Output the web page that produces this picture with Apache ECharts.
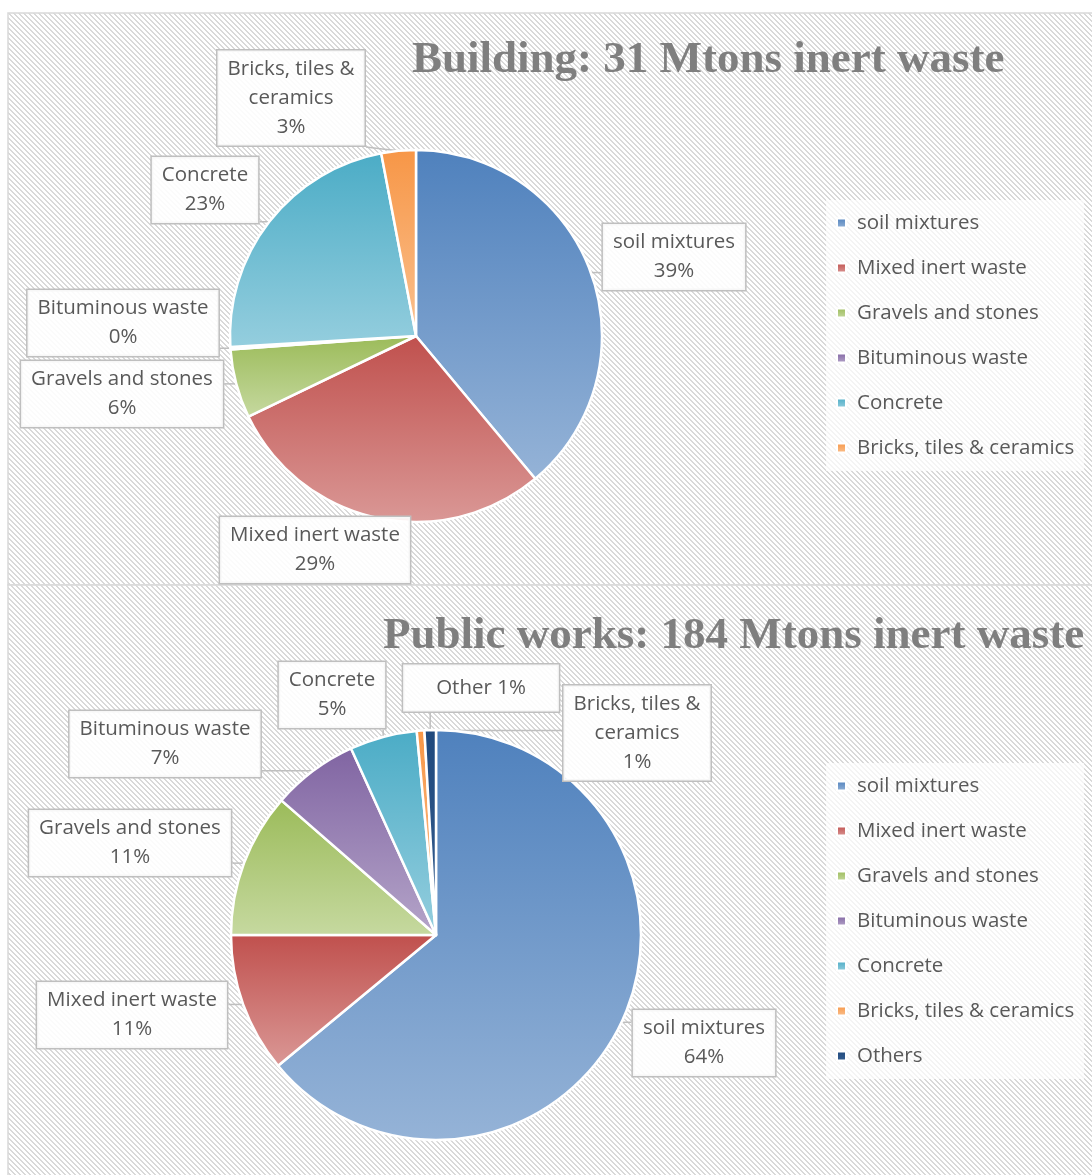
<!DOCTYPE html>
<html><head><meta charset="utf-8">
<script src="https://cdn.jsdelivr.net/npm/echarts@6/dist/echarts.min.js"></script>
<style>html,body{margin:0;padding:0;background:#fff}#chart{width:1092px;height:1175px}</style>
</head><body><div id="chart"></div>
<script>
// ---------- data ----------
const titles = ['Building: 31 Mtons inert waste', 'Public works: 184 Mtons inert waste'];

const categories1 = ['soil mixtures', 'Mixed inert waste', 'Gravels and stones', 'Bituminous waste', 'Concrete', 'Bricks, tiles & ceramics'];
const values1 = [39, 29, 6, 0.2, 23, 3];
const labelFormats1 = ['soil mixtures\n{p}%', 'Mixed inert waste\n{p}%', 'Gravels and stones\n{p}%', 'Bituminous waste\n{p}%', 'Concrete\n{p}%', 'Bricks, tiles &\nceramics\n{p}%'];

const categories2 = ['soil mixtures', 'Mixed inert waste', 'Gravels and stones', 'Bituminous waste', 'Concrete', 'Bricks, tiles & ceramics', 'Others'];
const values2 = [64, 11, 11.4, 6.8, 5.3, 0.6, 0.9];
const labelFormats2 = ['soil mixtures\n{p}%', 'Mixed inert waste\n{p}%', 'Gravels and stones\n{p}%', 'Bituminous waste\n{p}%', 'Concrete\n{p}%', 'Bricks, tiles &\nceramics\n{p}%', 'Other {p}%'];

// ---------- styles ----------
const colorStops = {
  'soil mixtures': ['#4F81BD', '#95B3D7'],
  'Mixed inert waste': ['#C0504D', '#DA9896'],
  'Gravels and stones': ['#9BBB59', '#C6D9A0'],
  'Bituminous waste': ['#8064A2', '#B5A5C9'],
  'Concrete': ['#4BACC6', '#95CEDE'],
  'Bricks, tiles & ceramics': ['#F79646', '#FAC190'],
  'Others': ['#1F497D', '#365E90']
};
function grad(name) {
  const c = colorStops[name];
  return new echarts.graphic.LinearGradient(0, 0, 0, 1, [{offset: 0, color: c[0]}, {offset: 1, color: c[1]}]);
}
// label box centres (layout)
const labelPos = [
  [[674, 257], [315, 550], [122, 394], [123, 323], [205, 190], [291, 98]],
  [[704, 1043], [132, 1015], [130, 843], [165, 744], [332, 695], [637, 733], [481, 688]]
];

// hatch pattern
const tile = document.createElement('canvas');
const P = 5;
tile.width = P; tile.height = P;
const tctx = tile.getContext('2d');
tctx.fillStyle = '#ffffff'; tctx.fillRect(0, 0, P, P);
tctx.fillStyle = '#d9d9d9';
for (let x = 0; x < P; x++) for (let y = 0; y < P; y++) {
  if (((x - y) % P + P) % P < 2) tctx.fillRect(x, y, 1, 1);
}
const hatch = {image: tile, repeat: 'repeat'};

const FONT = '"Open Sans", "Liberation Sans", sans-serif';
const labelBase = {
  show: true,
  color: '#595959',
  fontFamily: FONT,
  fontSize: 20.5,
  lineHeight: 29,
  align: 'center',
  backgroundColor: 'rgba(255,255,255,0.88)',
  borderColor: '#bfbfbf',
  borderWidth: 1.5,
  padding: [4, 10]
};

function buildData(cats, vals) {
  return cats.map((n, i) => ({
    name: n,
    value: vals[i],
    itemStyle: {color: grad(n)}
  }));
}
function makeFormatter(formats) {
  return p => formats[p.dataIndex].replace('{p}', Math.round(p.percent));
}
function makeLayout(si) {
  return p => {
    const c = labelPos[si][p.dataIndex];
    const w = p.labelRect.width, h = p.labelRect.height;
    const out = {x: c[0], y: c[1], align: 'center', verticalAlign: 'middle'};
    if (p.labelLinePoints && p.labelLinePoints.length) {
      const s = p.labelLinePoints[0];
      const ex = Math.min(Math.max(s[0], c[0] - w / 2), c[0] + w / 2);
      const ey = Math.min(Math.max(s[1], c[1] - h / 2), c[1] + h / 2);
      out.labelLinePoints = [[s[0], s[1]], [(s[0] + ex) / 2, (s[1] + ey) / 2], [ex, ey]];
    }
    return out;
  };
}

const data2 = buildData(categories2, values2);
data2[6].label = {padding: [9, 33]};

const chart = echarts.init(document.getElementById('chart'), null, {renderer: 'canvas'});
chart.setOption({
  animation: false,
  backgroundColor: '#ffffff',
  graphic: [
    {type: 'rect', silent: true, z: -10, shape: {x: 8, y: 13, width: 1100, height: 572}, style: {fill: hatch, stroke: '#d9d9d9', lineWidth: 1.5}},
    {type: 'rect', silent: true, z: -10, shape: {x: 8, y: 585, width: 1100, height: 600}, style: {fill: hatch, stroke: '#d9d9d9', lineWidth: 1.5}},
    {type: 'text', silent: true, z: 5, x: 412, y: 60, style: {text: titles[0], fill: '#7f7f7f', font: 'bold 45px "Liberation Serif", serif', textVerticalAlign: 'middle'}},
    {type: 'text', silent: true, z: 5, x: 383, y: 636, style: {text: titles[1], fill: '#7f7f7f', font: 'bold 45px "Liberation Serif", serif', textVerticalAlign: 'middle'}}
  ],
  legend: [
    {
      data: categories1, orient: 'vertical', left: 826, top: 200,
      padding: [12, 10, 12, 10], itemWidth: 9, itemHeight: 9, itemGap: 23, icon: 'rect',
      backgroundColor: 'rgba(255,255,255,0.7)',
      textStyle: {color: '#595959', fontFamily: FONT, fontSize: 20.5, lineHeight: 22, padding: [0, 0, 0, 6]}
    },
    {
      data: categories2, orient: 'vertical', left: 826, top: 763,
      padding: [12, 10, 12, 10], itemWidth: 9, itemHeight: 9, itemGap: 23, icon: 'rect',
      backgroundColor: 'rgba(255,255,255,0.7)',
      textStyle: {color: '#595959', fontFamily: FONT, fontSize: 20.5, lineHeight: 22, padding: [0, 0, 0, 6]}
    }
  ],
  series: [
    {
      type: 'pie', center: [416, 336], radius: 186, startAngle: 90, clockwise: true,
      percentPrecision: 0, avoidLabelOverlap: false, minShowLabelAngle: 0,
      itemStyle: {borderColor: '#ffffff', borderWidth: 2.5},
      label: Object.assign({}, labelBase, {formatter: makeFormatter(labelFormats1)}),
      labelLine: {show: true, lineStyle: {color: '#bfbfbf', width: 1.5}, length: 10, length2: 10},
      labelLayout: makeLayout(0),
      emphasis: {disabled: true},
      data: buildData(categories1, values1)
    },
    {
      type: 'pie', center: [436, 935], radius: 205, startAngle: 90, clockwise: true,
      percentPrecision: 0, avoidLabelOverlap: false, minShowLabelAngle: 0,
      itemStyle: {borderColor: '#ffffff', borderWidth: 2.5},
      label: Object.assign({}, labelBase, {formatter: makeFormatter(labelFormats2)}),
      labelLine: {show: true, lineStyle: {color: '#bfbfbf', width: 1.5}, length: 10, length2: 10},
      labelLayout: makeLayout(1),
      emphasis: {disabled: true},
      data: data2
    }
  ]
});
</script>
</body></html>
